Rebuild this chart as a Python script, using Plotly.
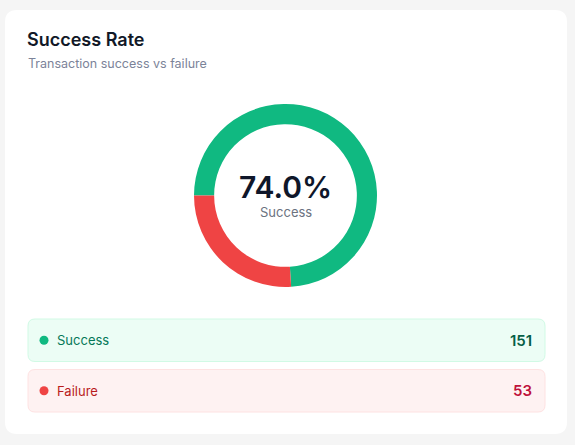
import plotly.graph_objects as go

W, H = 575, 445

# data
labels = ["Success", "Failure"]
counts = [151, 53]
colors = ["#10b981", "#ef4444"]
row_bg = ["#ecfdf5", "#fef2f2"]
row_border = ["#d1fae5", "#fee2e2"]
row_text = ["#047857", "#b91c1c"]
row_num = ["#065f46", "#be123c"]

title = "Success Rate"
subtitle = "Transaction success vs failure"

rate = counts[0] / sum(counts) * 100


def px(x):
    return x / W


def py(y):
    return 1 - y / H


def rounded_rect(x0, y0, x1, y1, r):
    # path in paper coords from pixel box
    return (
        f"M {px(x0 + r)} {py(y0)} L {px(x1 - r)} {py(y0)} "
        f"Q {px(x1)} {py(y0)} {px(x1)} {py(y0 + r)} "
        f"L {px(x1)} {py(y1 - r)} Q {px(x1)} {py(y1)} {px(x1 - r)} {py(y1)} "
        f"L {px(x0 + r)} {py(y1)} Q {px(x0)} {py(y1)} {px(x0)} {py(y1 - r)} "
        f"L {px(x0)} {py(y0 + r)} Q {px(x0)} {py(y0)} {px(x0 + r)} {py(y0)} Z"
    )


font = "Inter, Lato, sans-serif"

fig = go.Figure()

# donut
cx, cy, R = 285.5, 195.5, 91.5
fig.add_trace(go.Pie(
    labels=labels,
    values=counts,
    marker=dict(colors=colors, line=dict(width=0)),
    hole=0.78,
    sort=False,
    direction="clockwise",
    rotation=270,
    textinfo="none",
    showlegend=False,
    domain=dict(x=[px(cx - R), px(cx + R)], y=[py(cy + R), py(cy - R)]),
))

shapes = []
# card
shapes.append(dict(type="path", xref="paper", yref="paper", layer="below",
                   path=rounded_rect(5, 10, 567, 434, 12),
                   fillcolor="white", line=dict(width=0)))

annotations = [
    dict(x=px(25), y=py(39.5), text=title, xanchor="left", yanchor="middle",
         font=dict(family=font, size=18, color="#111827", weight=600)),
    dict(x=px(25.5), y=py(63.5), text=subtitle, xanchor="left", yanchor="middle",
         font=dict(family=font, size=12.5, color="#7c8399")),
    dict(x=px(cx), y=py(187), text=f"{rate:.1f}%", xanchor="center", yanchor="middle",
         font=dict(family=font, size=30, color="#0f172a", weight=600)),
    dict(x=px(cx), y=py(212.5), text=labels[0], xanchor="center", yanchor="middle",
         font=dict(family=font, size=13, color="#6b7280")),
]

# legend rows
row_tops = [319, 369.5]
for i, lab in enumerate(labels):
    top = row_tops[i]
    bot = top + 42.5
    mid = (top + bot) / 2
    shapes.append(dict(type="path", xref="paper", yref="paper", layer="below",
                       path=rounded_rect(28, top, 545, bot, 7),
                       fillcolor=row_bg[i], line=dict(color=row_border[i], width=1)))
    shapes.append(dict(type="circle", xref="paper", yref="paper", layer="above",
                       x0=px(39.5), x1=px(48.5), y0=py(mid + 4.5), y1=py(mid - 4.5),
                       fillcolor=colors[i], line=dict(width=0)))
    annotations.append(dict(x=px(55), y=py(mid), text=lab, xanchor="left", yanchor="middle",
                            font=dict(family=font, size=13, color=row_text[i])))
    annotations.append(dict(x=px(534), y=py(mid), text=str(counts[i]), xanchor="right",
                            yanchor="middle",
                            font=dict(family=font, size=15, color=row_num[i], weight=600)))

for a in annotations:
    a.update(xref="paper", yref="paper", showarrow=False)

fig.update_layout(
    width=W, height=H,
    margin=dict(l=0, r=0, t=0, b=0),
    paper_bgcolor="#f5f5f5",
    plot_bgcolor="#f5f5f5",
    shapes=shapes,
    annotations=annotations,
)

# page body has a default 8px margin; drop it so the card sits where it should
fig.write_html("out.html", config={"displayModeBar": False},
               post_script="document.body.style.margin='0';")
